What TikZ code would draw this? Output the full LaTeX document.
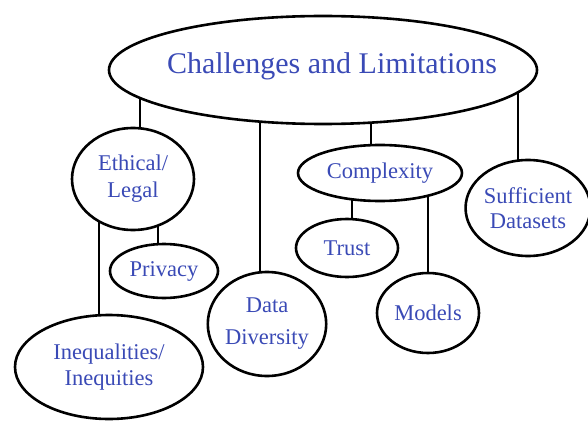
\documentclass[tikz,border=0pt]{standalone}
\usepackage{fontspec}
\setmainfont{Liberation Serif}
\usepackage{tikz}
\usetikzlibrary{shapes.geometric,backgrounds}
\usepackage{xcolor}
\definecolor{capBlue}{RGB}{58,74,182}

\begin{document}
\begin{tikzpicture}[x=1pt,y=-1pt,
    bubble/.style={draw, ellipse, line width=2.6pt, fill=white,
      inner sep=0pt, align=center, text=capBlue,
      font=\fontsize{22.5}{27}\selectfont},
    link/.style={line width=2.6pt}]
  \useasboundingbox (0,0) rectangle (588,422);
  % Root (ellipse and title set apart, so the ellipse keeps its size)
  \node[bubble, minimum width=428pt, minimum height=108pt] (root) at (323,70) {};
  \node[text=capBlue, font=\fontsize{30}{34}\selectfont, inner sep=0pt]
    (title) at (332,66) {Challenges and Limitations};
  % First level
  \node[bubble, minimum width=122pt, minimum height=102pt]
    (ethical) at (133,179) {Ethical/\\Legal};
  \node[bubble, minimum width=108pt, minimum height=104pt,
    font=\fontsize{22.5}{32}\selectfont]
    (diversity) at (267,324) {Data\\Diversity};
  \node[bubble, minimum width=164pt, minimum height=56pt]
    (complexity) at (380,173) {Complexity};
  \node[bubble, minimum width=124pt, minimum height=96pt,
    font=\fontsize{22.5}{25}\selectfont]
    (sufficient) at (528,208) {Sufficient\\Datasets};
  % Second level
  \node[bubble, minimum width=108pt, minimum height=54pt]
    (privacy) at (164,271) {Privacy};
  \node[bubble, minimum width=188pt, minimum height=104pt,
    font=\fontsize{22.5}{26}\selectfont]
    (inequal) at (109,367) {Inequalities/\\Inequities};
  \node[bubble, minimum width=102pt, minimum height=58pt]
    (trust) at (347,248) {Trust};
  \node[bubble, minimum width=102pt, minimum height=80pt]
    (models) at (428,313) {Models};
  % Vertical links, hidden behind the filled bubbles
  \begin{scope}[on background layer]
    \draw[link] ([xshift=7pt]ethical.center)
      -- ([xshift=7pt]ethical.center |- root.center);
    \draw[link] ([xshift=-7pt]diversity.center)
      -- ([xshift=-7pt]diversity.center |- root.center);
    \draw[link] ([xshift=-9pt]complexity.center)
      -- ([xshift=-9pt]complexity.center |- root.center);
    \draw[link] ([xshift=-10pt]sufficient.center)
      -- ([xshift=-10pt]sufficient.center |- root.center);
    \draw[link] ([xshift=-6pt]privacy.center)
      -- ([xshift=-6pt]privacy.center |- ethical.center);
    \draw[link] ([xshift=-10pt]inequal.center)
      -- ([xshift=-10pt]inequal.center |- ethical.center);
    \draw[link] ([xshift=5pt]trust.center)
      -- ([xshift=5pt]trust.center |- complexity.center);
    \draw[link] (models.center) -- (models.center |- complexity.center);
  \end{scope}
\end{tikzpicture}
\end{document}
